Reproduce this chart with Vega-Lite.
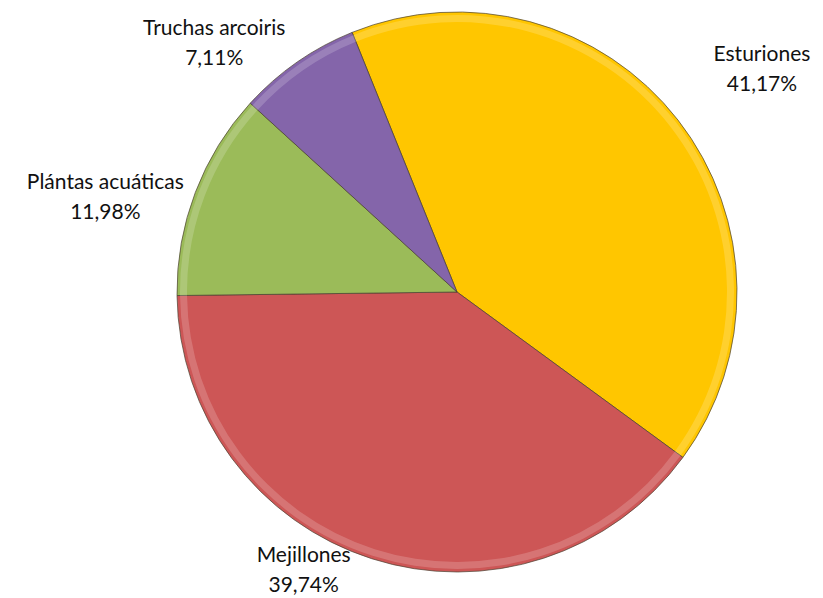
{
  "$schema": "https://vega.github.io/schema/vega-lite/v6.json",
  "width": 732,
  "height": 584,
  "autosize": "none",
  "padding": {"left": 91, "top": 0, "right": 0, "bottom": 14},
  "background": "white",
  "config": {"view": {"stroke": null}},
  "data": {
    "values": [
      {"cat": "Esturiones", "value": 41.17, "label": "Esturiones\n41,17%"},
      {"cat": "Mejillones", "value": 39.74, "label": "Mejillones\n39,74%"},
      {"cat": "Plántas acuáticas", "value": 11.98, "label": "Plántas acuáticas\n11,98%"},
      {"cat": "Truchas arcoiris", "value": 7.11, "label": "Truchas arcoiris\n7,11%"}
    ]
  },
  "encoding": {
    "theta": {"field": "value", "type": "quantitative", "stack": true, "scale": {"range": [-0.384, 5.8992]}},
    "order": {"field": "cat", "type": "ordinal", "sort": "ascending"}
  },
  "layer": [
    {
      "mark": {"type": "arc", "outerRadius": 280, "stroke": "#4a4030", "strokeWidth": 1, "strokeOpacity": 0.7},
      "encoding": {
        "color": {
          "field": "cat",
          "type": "nominal",
          "legend": null,
          "scale": {
            "domain": ["Esturiones", "Mejillones", "Plántas acuáticas", "Truchas arcoiris"],
            "range": ["#FFC600", "#CD5656", "#9BBB59", "#8465AA"]
          }
        }
      }
    },
    {
      "mark": {"type": "arc", "outerRadius": 277, "innerRadius": 270, "fill": "white", "fillOpacity": 0.18},
      "encoding": {}
    },
    {
      "mark": {"type": "text", "radius": 280, "dx": 84, "dy": -65, "font": "Lato", "fontSize": 21, "lineBreak": "\n", "lineHeight": 30, "align": "center", "baseline": "middle", "color": "#111111"},
      "encoding": {"text": {"condition": {"test": "datum.cat == 'Esturiones'", "field": "label"}, "value": ""}}
    },
    {
      "mark": {"type": "text", "radius": 280, "dx": -68, "dy": -3, "font": "Lato", "fontSize": 21, "lineBreak": "\n", "lineHeight": 30, "align": "center", "baseline": "middle", "color": "#111111"},
      "encoding": {"text": {"condition": {"test": "datum.cat == 'Mejillones'", "field": "label"}, "value": ""}}
    },
    {
      "mark": {"type": "text", "radius": 280, "dx": -90, "dy": -9, "font": "Lato", "fontSize": 21, "lineBreak": "\n", "lineHeight": 30, "align": "center", "baseline": "middle", "color": "#111111"},
      "encoding": {"text": {"condition": {"test": "datum.cat == 'Plántas acuáticas'", "field": "label"}, "value": ""}}
    },
    {
      "mark": {"type": "text", "radius": 280, "dx": -83, "dy": -33, "font": "Lato", "fontSize": 21, "lineBreak": "\n", "lineHeight": 30, "align": "center", "baseline": "middle", "color": "#111111"},
      "encoding": {"text": {"condition": {"test": "datum.cat == 'Truchas arcoiris'", "field": "label"}, "value": ""}}
    }
  ]
}
